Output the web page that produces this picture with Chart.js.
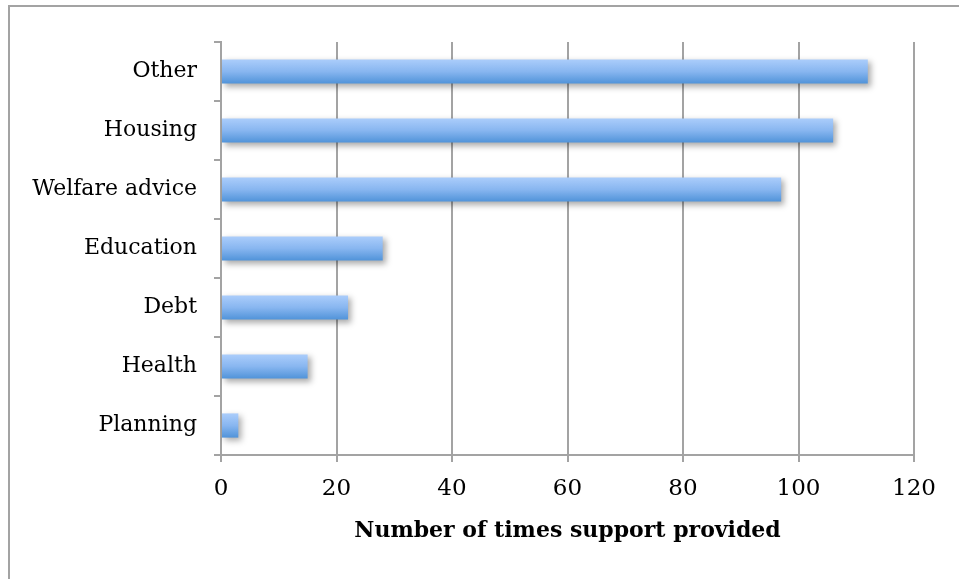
<!DOCTYPE html>
<html>
<head>
<meta charset="utf-8">
<script src="https://cdn.jsdelivr.net/npm/chart.js@4/dist/chart.umd.min.js"></script>
<style>
  html, body { margin: 0; padding: 0; background: #fff; }
  #wrap { position: relative; width: 959px; height: 579px; overflow: hidden; }
  #frame { position: absolute; left: 8px; top: 5px; width: 1200px; height: 1200px;
           border-left: 2px solid #a3a3a3; border-top: 2px solid #a3a3a3; box-sizing: border-box; }
  canvas { position: absolute; left: 0; top: 0; }
</style>
</head>
<body>
<div id="wrap">
  <div id="frame"></div>
  <canvas id="chart" width="959" height="579"></canvas>
</div>
<script>
// Support categories (top to bottom) and how often each was provided
const categories = ["Other", "Housing", "Welfare advice", "Education", "Debt", "Health", "Planning"];
const timesProvided = [112, 106, 97, 28, 22, 15, 3];
const xTicks = [0, 20, 40, 60, 80, 100, 120];
const xTitle = "Number of times support provided";

const GRID = "#a3a3a3";
const FONT = "'DejaVu Serif', serif";
const BAR_PCT = 0.41;

// Soft drop shadow under the bars
const barShadow = {
  id: "barShadow",
  beforeDatasetsDraw(chart) {
    const ctx = chart.ctx;
    ctx.save();
    ctx.shadowColor = "rgba(0,0,0,0.33)";
    ctx.shadowBlur = 6;
    ctx.shadowOffsetX = 3;
    ctx.shadowOffsetY = 3;
  },
  afterDatasetsDraw(chart) {
    chart.ctx.restore();
  }
};

// Vertical light-to-dark blue gradient for each bar
function barGradient(c) {
  const chart = c.chart;
  const area = chart.chartArea;
  if (!area) return "#7aaeea";
  const y = chart.scales.y.getPixelForValue(c.dataIndex);
  const h = (area.height / categories.length) * BAR_PCT;
  const g = chart.ctx.createLinearGradient(0, y - h / 2, 0, y + h / 2);
  g.addColorStop(0, "#abcdfb");
  g.addColorStop(0.5, "#88b6f0");
  g.addColorStop(1, "#5093d9");
  return g;
}

new Chart(document.getElementById("chart"), {
  type: "bar",
  data: {
    labels: categories,
    datasets: [{
      data: timesProvided,
      backgroundColor: barGradient,
      borderWidth: 0,
      categoryPercentage: 1,
      barPercentage: BAR_PCT
    }]
  },
  plugins: [barShadow],
  options: {
    indexAxis: "y",
    responsive: false,
    animation: false,
    events: [],
    layout: { padding: { left: 0, top: 42, right: 45, bottom: 0 } },
    plugins: { legend: { display: false }, tooltip: { enabled: false } },
    scales: {
      x: {
        min: 0, max: 120,
        afterBuildTicks(scale) { scale.ticks = xTicks.map(v => ({ value: v })); },
        afterFit(scale) { scale.height = 124; },
        grid: { color: GRID, lineWidth: 2, tickLength: 7, drawTicks: true },
        border: { color: GRID, width: 2 },
        ticks: { color: "#000", font: { family: FONT, size: 23 }, padding: 13, maxRotation: 0 },
        title: { display: true, text: xTitle, color: "#000",
                 font: { family: FONT, size: 22, weight: "bold" }, padding: { top: 4, bottom: 35 } }
      },
      y: {
        afterFit(scale) { scale.width = 221; },
        grid: { offset: true, drawOnChartArea: false, color: GRID, lineWidth: 2, tickLength: 7 },
        border: { color: GRID, width: 2 },
        ticks: { color: "#000", font: { family: FONT, size: 22 }, padding: 17 }
      }
    }
  }
});
</script>
</body>
</html>
